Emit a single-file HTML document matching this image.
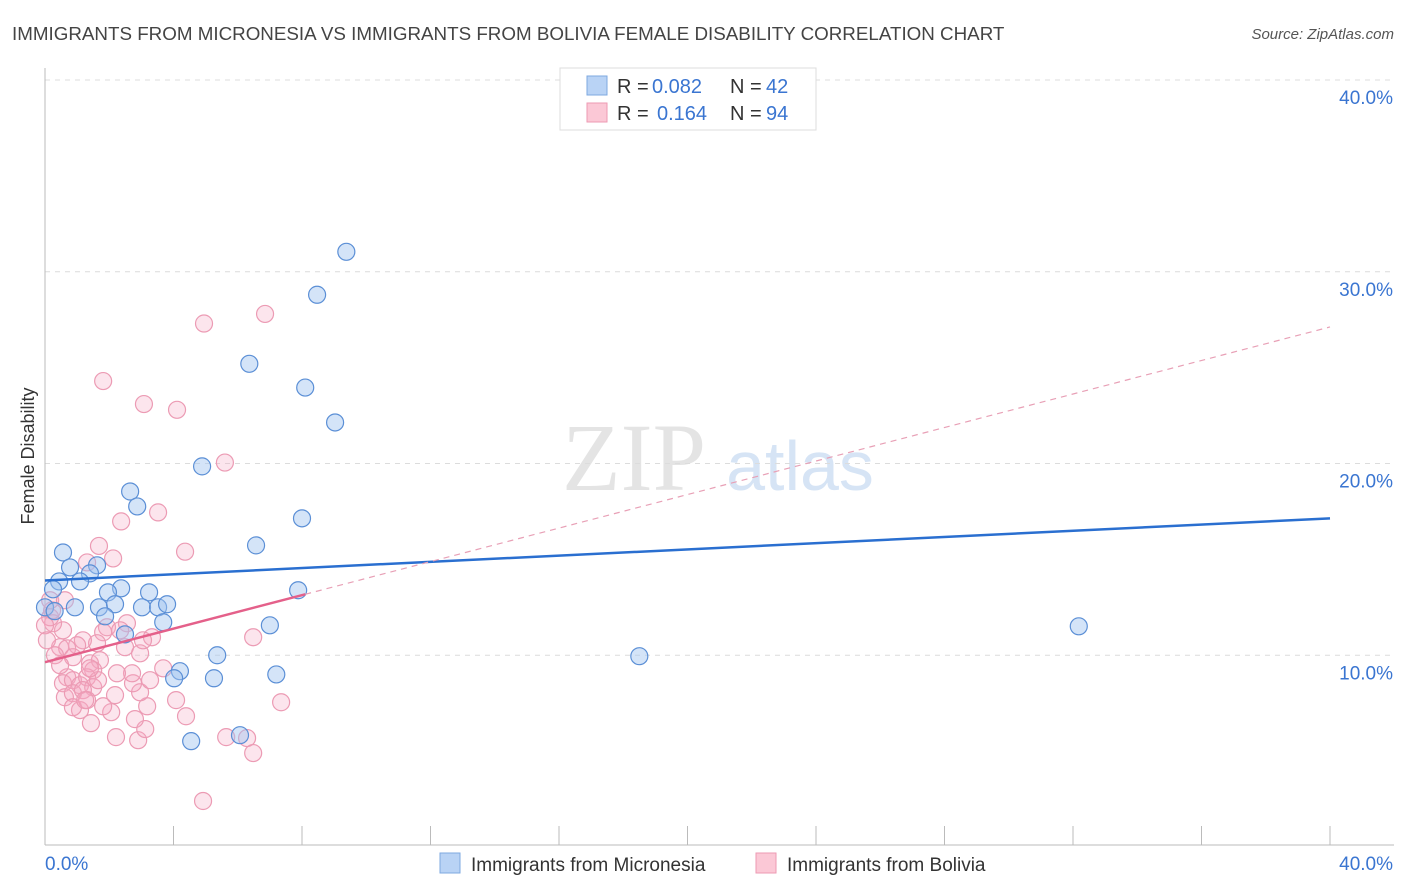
<!DOCTYPE html>
<html><head><meta charset="utf-8"><style>
body{margin:0;background:#fff;font-family:"Liberation Sans",sans-serif;}
svg{display:block}
</style></head><body>
<svg id="c" width="1406" height="892" xmlns="http://www.w3.org/2000/svg">
<text x="12" y="40" font-size="18.8" fill="#444">IMMIGRANTS FROM MICRONESIA VS IMMIGRANTS FROM BOLIVIA FEMALE DISABILITY CORRELATION CHART</text>
<text x="1394" y="39" font-size="15" fill="#555" font-style="italic" text-anchor="end">Source: ZipAtlas.com</text>
<text x="0" y="0" transform="translate(34,456) rotate(-90)" font-size="18" fill="#333" text-anchor="middle">Female Disability</text>
<g><text x="634" y="490" font-size="96" font-family="Liberation Serif,serif" fill="#e4e4e4" text-anchor="middle">ZIP</text><text x="800" y="490" font-size="70" fill="#d6e4f5" text-anchor="middle">atlas</text></g>
<g id="grid"></g><g id="axes"></g><g id="pts"></g><g id="lines"></g>
<g>
<rect x="560" y="68" width="256" height="62" fill="#fff" stroke="#ddd"/>
<rect x="587" y="76" width="20" height="19" fill="#b9d3f5" stroke="#7ea8e0"/>
<rect x="587" y="103" width="20" height="19" fill="#fbc8d6" stroke="#ee9ab3"/>
<text x="617" y="93" font-size="20" fill="#333">R =</text><text x="652" y="93" font-size="20" fill="#3a75d1">0.082</text>
<text x="730" y="93" font-size="20" fill="#333">N =</text><text x="766" y="93" font-size="20" fill="#3a75d1">42</text>
<text x="617" y="120" font-size="20" fill="#333">R =</text><text x="657" y="120" font-size="20" fill="#3a75d1">0.164</text>
<text x="730" y="120" font-size="20" fill="#333">N =</text><text x="766" y="120" font-size="20" fill="#3a75d1">94</text>
</g>
<g>
<rect x="440" y="853" width="20" height="20" fill="#b9d3f5" stroke="#7ea8e0"/>
<text x="471" y="871" font-size="19" fill="#333">Immigrants from Micronesia</text>
<rect x="756" y="853" width="20" height="20" fill="#fbc8d6" stroke="#ee9ab3"/>
<text x="787" y="871" font-size="19" fill="#333">Immigrants from Bolivia</text>
</g>
</svg>
<script>
const yTicks=[10,20,30,40];
const yTickLabels=["10.0%","20.0%","30.0%","40.0%"];
const xTickLabels=["0.0%","40.0%"];
const blueX=[9.38,8.47,6.36,8.1,9.03,4.89,2.65,2.87,8.0,6.57,0.56,0.78,1.62,1.4,0.44,1.09,0.25,2.37,1.96,3.24,7.88,0.93,1.68,2.18,3.02,3.52,3.8,1.87,3.68,2.49,7.0,32.18,5.36,18.5,4.2,4.02,5.26,7.2,4.55,6.07,0,0.3];
const blueY=[31.04,28.8,25.2,23.96,22.14,19.85,18.54,17.76,17.14,15.73,15.36,14.58,14.69,14.27,13.85,13.85,13.44,13.49,13.28,13.28,13.39,12.5,12.5,12.66,12.5,12.5,12.66,12.03,11.72,11.09,11.56,11.51,10.0,9.95,9.17,8.8,8.8,9.0,5.52,5.83,12.5,12.3];
const pinkX=[4.95,6.85,1.81,3.08,4.11,5.6,3.52,2.37,4.36,1.68,2.12,1.31,2.55,6.48,7.35,3.68,4.08,4.39,5.64,6.29,6.48,4.92,2.21,2.9,3.12,2.8,3.18,2.06,1.81,1.43,1.09,2.18,2.96,2.74,2.71,2.24,2.49,2.96,3.33,3.05,1.93,1.81,1.62,1.18,1.0,0.56,0.25,0.16,0.22,0.47,0.69,0.31,0.87,1.4,1.71,1.5,0.69,0.56,0.87,1.09,1.31,1.5,1.65,0.62,0.87,1.18,0.87,1.31,1.4,0,0.06,0.16,2.34,0.62,3.27,0.47,1.25];
const pinkY=[27.3,27.8,24.3,23.1,22.8,20.05,17.45,16.98,15.4,15.7,15.05,14.84,11.67,10.94,7.55,9.32,7.66,6.82,5.73,5.68,4.9,2.4,5.73,5.57,6.15,6.67,7.34,7.03,7.34,6.46,7.14,7.92,8.07,8.54,9.06,9.06,10.42,10.1,10.94,10.78,11.46,11.2,10.63,10.78,10.52,11.3,11.67,11.98,12.34,10.42,10.36,10.0,9.9,9.58,9.74,9.22,8.85,8.54,8.7,8.44,8.85,8.33,8.7,7.81,8.02,8.18,7.29,7.66,9.32,11.56,10.78,12.87,11.3,12.87,8.7,9.48,7.66];
const blueTrend=[13.9,0.081];
const pinkTrend=[9.64,0.437];
const NS="http://www.w3.org/2000/svg";
const X=v=>45+v/40*1285, Y=v=>847-v/40*767;
function mk(t,a,p){const e=document.createElementNS(NS,t);for(const k in a)e.setAttribute(k,a[k]);document.getElementById(p).appendChild(e);return e;}
yTicks.forEach((t,i)=>{
 const g=mk('line',{x1:45,x2:1394,y1:Y(t),y2:Y(t),stroke:'#dcdcdc','stroke-dasharray':'5,5'},'grid');
 
 
 const l=mk('text',{x:1393,y:Y(t)+24,'font-size':19,fill:'#3a75d1','text-anchor':'end'},'grid');
 l.textContent=yTickLabels[i];
 
 
});
const ax=mk('line',{x1:45,x2:45,y1:68,y2:845,stroke:'#bbb'},'axes');


const bx=mk('line',{x1:45,x2:1394,y1:845,y2:845,stroke:'#bbb'},'axes');


for(let v=0;v<=40;v+=4){const t=mk('line',{x1:X(v),x2:X(v),y1:826,y2:845,stroke:'#bbb'},'axes');
 
 }
[[0,45,'start'],[40,1393,'end']].forEach((d,i)=>{const t=mk('text',{x:d[1],y:870,'font-size':19,fill:'#3a75d1','text-anchor':d[2]},'axes');t.textContent=xTickLabels[i];
 
 });
pinkX.forEach((x,i)=>{const c=mk('circle',{cx:X(x),cy:Y(pinkY[i]),r:8.5,fill:'rgba(246,170,195,0.3)',stroke:'#ec9bb4','stroke-width':1.2},'pts');
 
 });
blueX.forEach((x,i)=>{const c=mk('circle',{cx:X(x),cy:Y(blueY[i]),r:8.5,fill:'rgba(160,195,240,0.45)',stroke:'#5b8fd6','stroke-width':1.2},'pts');
 
 });
const f=(tr,x)=>tr[0]+tr[1]*x;
const bl=mk('line',{x1:X(0),y1:Y(f(blueTrend,0)),x2:X(40),y2:Y(f(blueTrend,40)),stroke:'#2a6fd0','stroke-width':2.5},'lines');


const pd=mk('line',{x1:X(8.1),y1:Y(f(pinkTrend,8.1)),x2:X(40),y2:Y(f(pinkTrend,40)),stroke:'#e8a0b6','stroke-width':1.2,'stroke-dasharray':'6,5'},'lines');


const ps=mk('line',{x1:X(0),y1:Y(f(pinkTrend,0)),x2:X(8.1),y2:Y(f(pinkTrend,8.1)),stroke:'#e4608a','stroke-width':2.5},'lines');


</script>
</body></html>
